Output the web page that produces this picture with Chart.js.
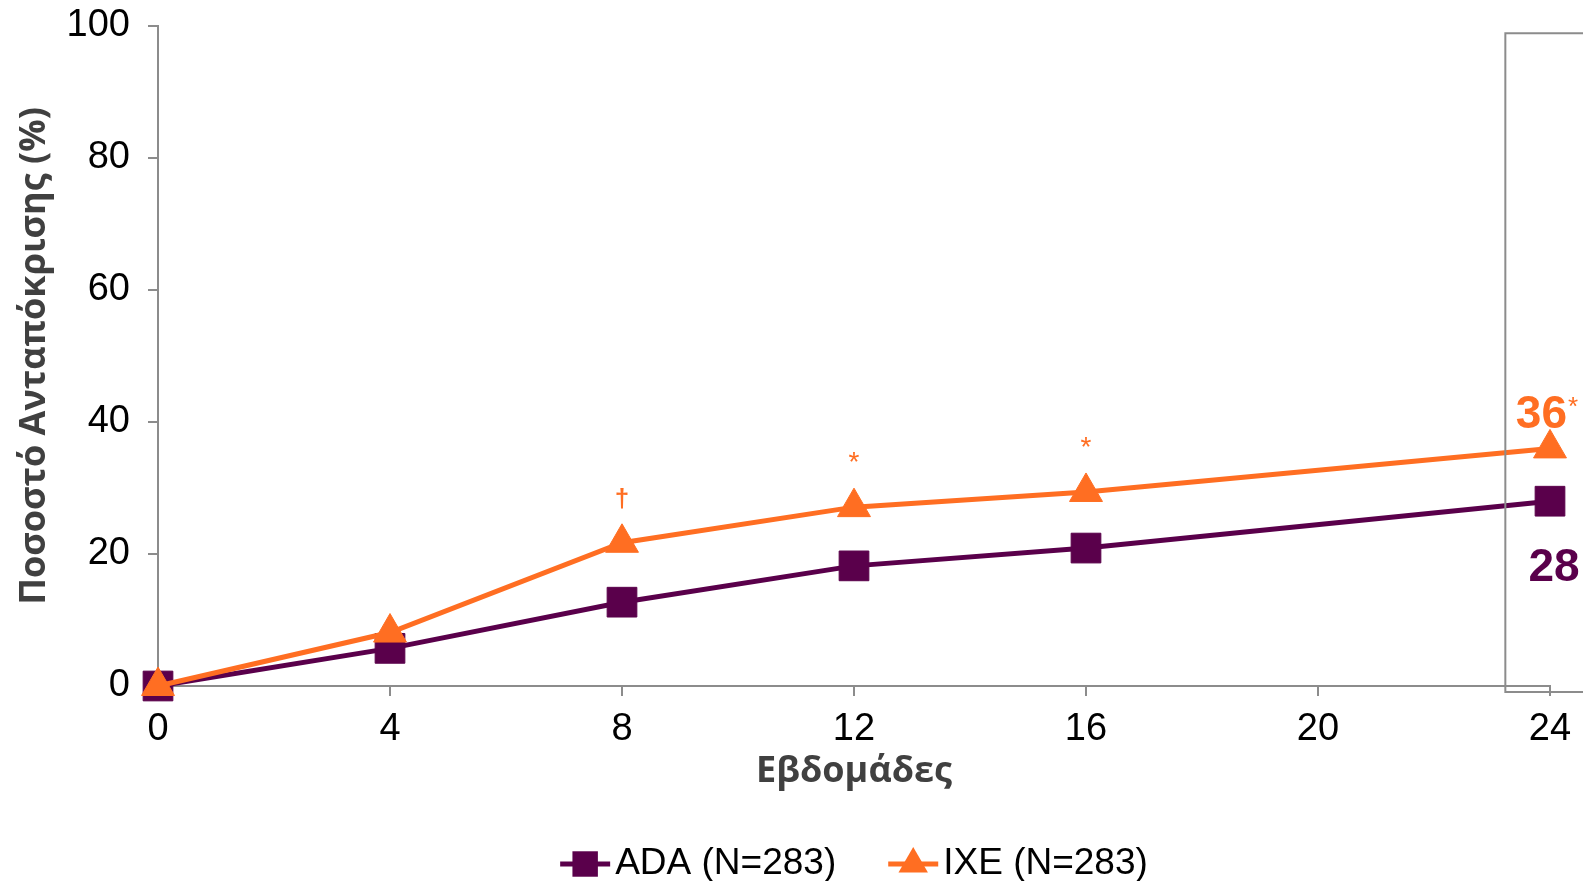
<!DOCTYPE html>
<html>
<head>
<meta charset="utf-8">
<script src="https://cdn.jsdelivr.net/npm/chart.js@4.4.1/dist/chart.umd.min.js"></script>
<style>
  html, body { margin: 0; padding: 0; background: #fff; }
  canvas { display: block; }
</style>
</head>
<body>
<canvas id="chart" width="1583" height="881"></canvas>
<script>
// ===== Data =====
const weeks = [0, 4, 8, 12, 16, 24];
const adaValues = [0, 5.7, 12.7, 18.2, 20.9, 28];
const ixeValues = [0, 8.1, 21.7, 27.1, 29.4, 36];
const ixeSigMarks = ["", "", "†", "*", "*", "*"];
const xTicks = [0, 4, 8, 12, 16, 20, 24];
const yTicks = [0, 20, 40, 60, 80, 100];
const seriesLabels = ["ADA (N=283)", "IXE (N=283)"];

const PURPLE = "#5a004b";
const ORANGE = "#ff6e22";
const AXIS_GRAY = "#8c8c8c";
const SANS = "'Liberation Sans', Arial, sans-serif";
const TITLE_FONT = "'Open Sans', 'Liberation Sans', sans-serif";

// ===== Gray highlight box around week 24 =====
const weekBox = {
    id: "weekBox",
    afterDatasetsDraw(chart) {
        const { ctx, scales: { x, y } } = chart;
        const left = x.getPixelForValue(23.23);
        const top = y.getPixelForValue(98.9);
        const bottom = y.getPixelForValue(-0.9);
        ctx.save();
        ctx.strokeStyle = AXIS_GRAY;
        ctx.lineWidth = 2;
        ctx.beginPath();
        ctx.moveTo(chart.width + 5, top);
        ctx.lineTo(left, top);
        ctx.lineTo(left, bottom);
        ctx.lineTo(chart.width + 5, bottom);
        ctx.stroke();
        ctx.restore();
    }
};

// ===== Significance marks and end values =====
const pointLabels = {
    id: "pointLabels",
    afterDatasetsDraw(chart) {
        const ctx = chart.ctx;
        const adaPts = chart.getDatasetMeta(0).data;
        const ixePts = chart.getDatasetMeta(1).data;
        const last = ixePts.length - 1;
        ctx.save();
        ctx.textBaseline = "alphabetic";

        ctx.fillStyle = ORANGE;
        ixePts.forEach((pt, i) => {
            const mark = ixeSigMarks[i];
            if (i === last) {
                ctx.font = "bold 46px " + SANS;
                ctx.textAlign = "right";
                ctx.fillText(String(ixeValues[i]), pt.x + 17, pt.y - 20);
                ctx.font = "26px " + SANS;
                ctx.textAlign = "left";
                ctx.fillText(mark, pt.x + 18, pt.y - 33);
            } else if (mark) {
                ctx.font = (mark === "†" ? "bold 26px " : "28px ") + SANS;
                ctx.textAlign = "center";
                ctx.fillText(mark, pt.x, pt.y - 36);
            }
        });

        const adaLast = adaPts[adaPts.length - 1];
        ctx.fillStyle = PURPLE;
        ctx.font = "bold 46px " + SANS;
        ctx.textAlign = "center";
        ctx.fillText(String(adaValues[adaValues.length - 1]), adaLast.x + 4, adaLast.y + 80);
        ctx.restore();
    }
};

// ===== Legend row (line + marker + label) =====
const legendRow = {
    id: "legendRow",
    afterDraw(chart) {
        const ctx = chart.ctx;
        const y = chart.height - 17;
        const symW = 50, gap = 5, spacing = 52;
        ctx.save();
        ctx.font = "37px " + SANS;
        const items = chart.data.datasets;
        const widths = items.map(ds => symW + gap + ctx.measureText(ds.label).width);
        const total = widths.reduce((a, b) => a + b, 0) + spacing * (items.length - 1);
        let x = (chart.chartArea.left + chart.chartArea.right) / 2 - total / 2;

        items.forEach((ds, i) => {
            ctx.strokeStyle = ds.borderColor;
            ctx.lineWidth = 5;
            ctx.beginPath();
            ctx.moveTo(x, y);
            ctx.lineTo(x + symW, y);
            ctx.stroke();

            ctx.fillStyle = ds.borderColor;
            Chart.helpers.drawPoint(ctx, {
                pointStyle: ds.pointStyle,
                radius: ds.pointStyle === "rect" ? 18 : 17,
                rotation: 0,
                borderWidth: 0
            }, x + symW / 2, y);

            ctx.fillStyle = "#000";
            ctx.textAlign = "left";
            ctx.textBaseline = "middle";
            ctx.fillText(ds.label, x + symW + gap, y);
            x += widths[i] + spacing;
        });
        ctx.restore();
    }
};

const tickFont = { family: SANS, size: 38 };
const titleFont = { family: TITLE_FONT, size: 36, weight: "bold" };

new Chart(document.getElementById("chart"), {
    type: "line",
    data: {
        datasets: [
            {
                label: seriesLabels[0],
                data: weeks.map((w, i) => ({ x: w, y: adaValues[i] })),
                borderColor: PURPLE,
                backgroundColor: PURPLE,
                borderWidth: 5,
                pointStyle: "rect",
                pointRadius: 21,
                pointBorderWidth: 1,
                tension: 0,
                clip: false,
                order: 1
            },
            {
                label: seriesLabels[1],
                data: weeks.map((w, i) => ({ x: w, y: ixeValues[i] })),
                borderColor: ORANGE,
                backgroundColor: ORANGE,
                borderWidth: 5,
                pointStyle: "triangle",
                pointRadius: 19,
                pointBorderWidth: 1,
                tension: 0,
                clip: false,
                order: 0
            }
        ]
    },
    options: {
        responsive: false,
        animation: false,
        layout: { autoPadding: false, padding: { top: 26, right: 33, bottom: 88, left: 0 } },
        plugins: {
            legend: { display: false },
            tooltip: { enabled: false }
        },
        scales: {
            x: {
                type: "linear",
                min: 0,
                max: 24,
                afterBuildTicks: s => { s.ticks = xTicks.map(v => ({ value: v })); },
                afterFit: s => { s.height = 107; s.paddingLeft = 0; s.paddingRight = 0; },
                ticks: { color: "#000", font: tickFont, padding: 11, maxRotation: 0 },
                grid: { drawOnChartArea: false, drawTicks: true, tickLength: 10, color: AXIS_GRAY, lineWidth: 2 },
                border: { color: AXIS_GRAY, width: 2 },
                title: { display: true, text: "Εβδομάδες", color: "#404040", font: titleFont, padding: 0 }
            },
            y: {
                min: 0,
                max: 100,
                afterBuildTicks: s => { s.ticks = yTicks.map(v => ({ value: v })); },
                afterFit: s => { s.width = 158; s.paddingTop = 0; s.paddingBottom = 0; },
                ticks: { color: "#000", font: tickFont, padding: 18 },
                grid: { drawOnChartArea: false, drawTicks: true, tickLength: 10, color: AXIS_GRAY, lineWidth: 2 },
                border: { color: AXIS_GRAY, width: 2 },
                title: { display: true, text: "Ποσοστό Ανταπόκρισης (%)", color: "#404040", font: titleFont, padding: { top: 13, bottom: 0 } }
            }
        }
    },
    plugins: [weekBox, pointLabels, legendRow]
});
</script>
</body>
</html>
